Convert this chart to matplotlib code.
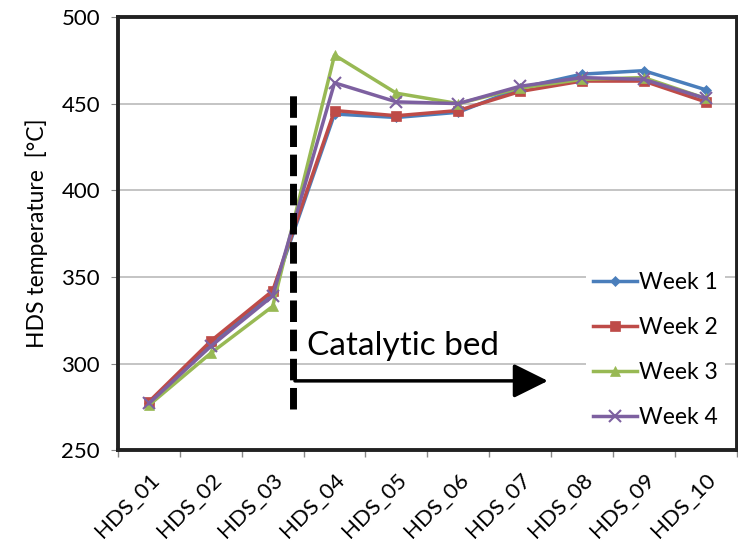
import matplotlib
matplotlib.use("Agg")
import matplotlib.pyplot as plt
import numpy as np

plt.rcParams['font.family'] = ['Lato', 'DejaVu Sans']

categories = ["HDS_01", "HDS_02", "HDS_03", "HDS_04", "HDS_05",
              "HDS_06", "HDS_07", "HDS_08", "HDS_09", "HDS_10"]
week1 = [277, 311, 341, 444, 442, 445, 459, 467, 469, 458]
week2 = [278, 313, 342, 446, 443, 446, 457, 463, 463, 451]
week3 = [276, 306, 333, 478, 456, 450, 459, 464, 465, 453]
week4 = [277, 310, 339, 462, 451, 450, 460, 465, 464, 453]
series_names = ["Week 1", "Week 2", "Week 3", "Week 4"]
colors = ["#4A7EBB", "#BE4B48", "#98B954", "#7D60A0"]
markers = ["D", "s", "^", "x"]
msizes = [5, 7, 7, 8]

fig = plt.figure(figsize=(7.38, 5.47), dpi=100)
ax = fig.add_axes([0.16, 0.177, 0.838, 0.792])

x = np.arange(len(categories))
for vals, name, c, m, ms in zip([week1, week2, week3, week4], series_names, colors, markers, msizes):
    ax.plot(x, vals, color=c, marker=m, markersize=ms, linewidth=2.5, label=name,
            markeredgewidth=1.5 if m == "x" else 0.5, zorder=3)

ax.set_xlim(-0.5, 9.5)
ax.set_ylim(250, 500)
ax.set_yticks([250, 300, 350, 400, 450, 500])
ax.yaxis.grid(True, color="#BFBFBF", linewidth=1.3)
ax.set_axisbelow(True)

ax.set_xticks(x)
ax.set_xticklabels(categories, rotation=45, ha="right", rotation_mode="anchor", fontsize=16)
ax.set_xticks(np.arange(-0.5, 10, 1), minor=True)
ax.tick_params(axis="x", which="major", length=0, pad=14)
ax.tick_params(axis="x", which="minor", length=5, color="#888888", width=1)
ax.tick_params(axis="y", length=5, color="#888888", labelsize=16, pad=8)

for s in ax.spines.values():
    s.set_linewidth(2.8)
    s.set_color("#222222")

ax.set_ylabel("HDS temperature  [°C]", fontsize=16.5, labelpad=10)

# Dashed vertical line marking start of catalytic bed
ax.plot([2.33, 2.33], [274, 458], color="black", linestyle=(0, (3.1, 1.1)), linewidth=5, zorder=4)
ax.annotate("", xy=(6.45, 290), xytext=(2.36, 290),
            arrowprops=dict(arrowstyle="-|>,head_length=1.25,head_width=0.62", color="black",
                            linewidth=2.5, shrinkA=0, shrinkB=0, mutation_scale=17))
ax.text(2.55, 305, "Catalytic bed", fontsize=24, ha="left", va="baseline")

leg = ax.legend(loc="lower right", bbox_to_anchor=(1.0, 0.008), frameon=True, fontsize=16.5,
                handlelength=1.9, labelspacing=1.05, borderpad=0.3, handletextpad=0.12)
leg.get_frame().set_edgecolor("none")
leg.get_frame().set_facecolor("white")
leg.get_frame().set_alpha(1)

fig.savefig("out.png", dpi=100)
